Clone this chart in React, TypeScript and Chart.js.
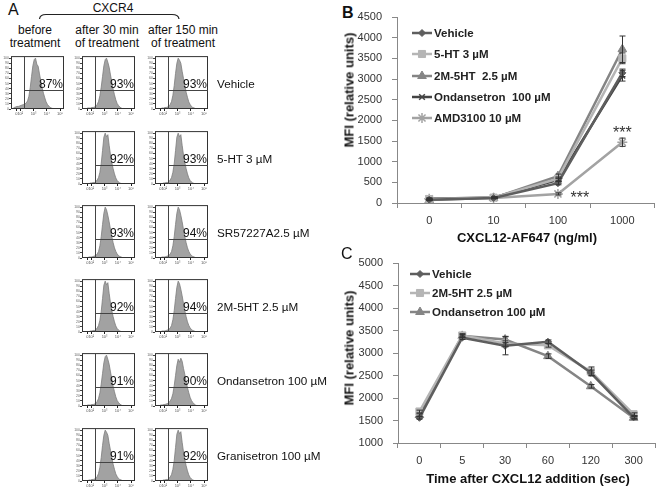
import React, { useEffect, useRef } from 'react';
import { Chart, registerables } from 'chart.js';
import { drawPoint } from 'chart.js/helpers';

Chart.register(...registerables);
const FONT = '"Liberation Sans", Arial, Helvetica, sans-serif';
Chart.defaults.font.family = FONT;

// ---------------- Panel B data ----------------
const doseLabels = ['0', '10', '100', '1000'];
const bVehicle = [80, 120, 480, 3150];
const bVehicleErr = [15, 15, 40, 90];
const b5HT = [95, 130, 590, 3500];
const b5HTErr = [20, 15, 40, 130];
const b2M5HT = [70, 125, 650, 3720];
const b2M5HTErr = [15, 15, 50, 320];
const bOndansetron = [100, 135, 560, 3080];
const bOndansetronErr = [20, 15, 40, 130];
const bAMD3100 = [100, 120, 220, 1470];
const bAMD3100Err = [20, 15, 25, 100];
const bSeriesNames = ['Vehicle', '5-HT 3 µM', '2M-5HT  2.5 µM', 'Ondansetron  100 µM', 'AMD3100 10 µM'];
const bYTicks = [0, 500, 1000, 1500, 2000, 2500, 3000, 3500, 4000, 4500];
const bSigIndex = [3, 2];
const bSigValue = [1780, 210];

// ---------------- Panel C data ----------------
const timeLabels = ['0', '5', '30', '60', '120', '300'];
const cVehicle = [1560, 3340, 3160, 3250, 2560, 1570];
const cVehicleErr = [30, 40, 200, 40, 60, 30];
const c2M5HT = [1700, 3390, 3210, 3170, 2590, 1640];
const c2M5HTErr = [30, 40, 60, 40, 100, 30];
const cOndansetron = [1620, 3380, 3300, 2930, 2260, 1560];
const cOndansetronErr = [30, 30, 70, 50, 40, 30];
const cSeriesNames = ['Vehicle', '2M-5HT 2.5 µM', 'Ondansetron 100 µM'];
const cYTicks = [1000, 1500, 2000, 2500, 3000, 3500, 4000, 4500, 5000];

// ---------------- Panel A data ----------------
const treatments = ['Vehicle', '5-HT 3 µM', 'SR57227A2.5 µM', '2M-5HT 2.5 µM', 'Ondansetron 100 µM', 'Granisetron 100 µM'];
const pctBefore = ['87%'];
const pct30 = ['93%', '92%', '93%', '92%', '91%', '91%'];
const pct150 = ['93%', '93%', '94%', '94%', '90%', '92%'];
const histBefore = [0, 1, 3, 4, 5, 5, 6, 7, 8, 9, 10, 12, 16, 25, 42, 64, 85, 97, 100, 88, 84, 69, 55, 42, 31, 22, 14, 9, 6, 3, 2, 1, 1, 0, 0, 0, 0, 0, 0, 0];
const histV30 = [0, 0, 1, 1, 2, 2, 2, 3, 3, 4, 6, 9, 15, 26, 43, 64, 85, 97, 100, 92, 82, 67, 53, 39, 28, 18, 11, 7, 4, 2, 1, 1, 0, 0, 0, 0, 0, 0, 0, 0];
const histV150 = [0, 0, 1, 1, 1, 2, 2, 3, 3, 4, 6, 9, 15, 27, 46, 70, 90, 100, 96, 90, 74, 60, 46, 33, 23, 14, 9, 5, 3, 2, 1, 0, 0, 0, 0, 0, 0, 0, 0, 0];
const histNarrow = [0, 0, 0, 1, 1, 1, 2, 2, 3, 3, 5, 8, 13, 23, 40, 66, 92, 100, 93, 97, 76, 57, 42, 30, 20, 12, 7, 4, 2, 1, 1, 0, 0, 0, 0, 0, 0, 0, 0, 0];
const histSR = [0, 0, 1, 1, 1, 2, 2, 2, 3, 4, 5, 8, 13, 24, 42, 66, 88, 100, 95, 84, 71, 56, 42, 30, 20, 13, 8, 5, 3, 2, 1, 0, 0, 0, 0, 0, 0, 0, 0, 0];
const histWide = [0, 0, 1, 1, 2, 2, 3, 3, 4, 5, 7, 10, 15, 24, 40, 60, 80, 92, 86, 94, 88, 74, 62, 48, 36, 26, 17, 11, 7, 4, 2, 1, 1, 0, 0, 0, 0, 0, 0, 0];
const hist30ByRow = [histV30, histNarrow, histSR, histNarrow, histV30, histV150];
const hist150ByRow = [histV150, histNarrow, histSR, histSR, histWide, histNarrow];
const histXTickBins = [4, 7, 17, 27, 37];
const histXTickLabels = ['0', '10²', '10³', '10⁴', '10⁵'];
const histYTicks = [0, 10, 20, 30, 40, 50, 60, 70, 80, 90, 100];
const histGateBin = 10;
const histGateLevel = 37;

// ---------------- plugins ----------------
const errorBarPlugin = {
  id: 'errorBars',
  afterDatasetsDraw(chart: any) {
    const ctx = chart.ctx;
    const ys = chart.scales.y;
    chart.data.datasets.forEach((ds: any, i: number) => {
      const errs = ds.errorBars;
      if (!errs) return;
      const meta = chart.getDatasetMeta(i);
      ctx.save();
      ctx.strokeStyle = '#333';
      ctx.lineWidth = 1;
      meta.data.forEach((pt: any, j: number) => {
        const v = ds.data[j];
        const e = errs[j];
        if (!e) return;
        const y1 = ys.getPixelForValue(v + e);
        const y2 = ys.getPixelForValue(v - e);
        const x = Math.round(pt.x) + 0.5;
        ctx.beginPath();
        ctx.moveTo(x, y1);
        ctx.lineTo(x, y2);
        ctx.moveTo(x - 3, y1);
        ctx.lineTo(x + 3, y1);
        ctx.moveTo(x - 3, y2);
        ctx.lineTo(x + 3, y2);
        ctx.stroke();
      });
      ctx.restore();
    });
  },
};

function makeLegendPlugin(x: number, ys: number[], fontSize: number) {
  return {
    id: 'inlineLegend',
    afterDraw(chart: any) {
      const ctx = chart.ctx;
      chart.data.datasets.forEach((ds: any, i: number) => {
        const y = ys[i];
        ctx.save();
        ctx.strokeStyle = ds.borderColor;
        ctx.lineWidth = 2.5;
        ctx.beginPath();
        ctx.moveTo(x, y);
        ctx.lineTo(x + 20, y);
        ctx.stroke();
        ctx.fillStyle = ds.backgroundColor;
        ctx.strokeStyle = ds.borderColor;
        ctx.lineWidth = ds.pointBorderWidth || 1;
        drawPoint(ctx, { pointStyle: ds.pointStyle, radius: ds.pointRadius, rotation: 0, borderWidth: ds.pointBorderWidth || 1 } as any, x + 10, y);
        ctx.fillStyle = '#222';
        ctx.font = `bold ${fontSize}px ${FONT}`;
        ctx.textBaseline = 'middle';
        ctx.textAlign = 'left';
        ctx.fillText(ds.label, x + 22, y + 0.5);
        ctx.restore();
      });
    },
  };
}

const sigPlugin = {
  id: 'sigMarks',
  afterDatasetsDraw(chart: any) {
    const ctx = chart.ctx;
    const xs = chart.scales.x;
    const ys = chart.scales.y;
    ctx.save();
    ctx.fillStyle = '#333';
    ctx.font = `16px ${FONT}`;
    ctx.textAlign = 'center';
    ctx.textBaseline = 'middle';
    ctx.fillText('***', xs.getPixelForValue(bSigIndex[0]), ys.getPixelForValue(bSigValue[0]) + 4);
    ctx.fillText('***', xs.getPixelForValue(bSigIndex[1]) + 22, ys.getPixelForValue(bSigValue[1]) + 4);
    ctx.restore();
  },
};

const histFramePlugin = {
  id: 'histFrame',
  afterDatasetsDraw(chart: any) {
    const { left, top, right, bottom } = chart.chartArea;
    const ctx = chart.ctx;
    const gx = Math.round(chart.scales.x.getPixelForValue(histGateBin)) + 0.5;
    const gy = Math.round(chart.scales.y.getPixelForValue(histGateLevel)) + 0.5;
    ctx.save();
    ctx.strokeStyle = '#333';
    ctx.lineWidth = 1;
    ctx.strokeRect(left + 0.5, top + 0.5, right - left - 1, bottom - top - 1);
    ctx.strokeStyle = '#444';
    ctx.beginPath();
    ctx.moveTo(gx, top);
    ctx.lineTo(gx, bottom);
    ctx.moveTo(gx, gy);
    ctx.lineTo(right, gy);
    ctx.stroke();
    ctx.restore();
  },
};

// ---------------- generic canvas chart ----------------
function ChartCanvas({ left, top, width, height, make }: { left: number; top: number; width: number; height: number; make: () => any }) {
  const ref = useRef<HTMLCanvasElement>(null);
  useEffect(() => {
    const chart = new Chart(ref.current as HTMLCanvasElement, make());
    return () => chart.destroy();
  }, []);
  return (
    <canvas
      ref={ref}
      width={width}
      height={height}
      style={{ position: 'absolute', left, top, width, height, display: 'block' }}
    />
  );
}

function series(label: string, data: number[], errs: number[], color: string, style: string, radius: number, pbw = 1) {
  return {
    label,
    data,
    errorBars: errs,
    borderColor: color,
    backgroundColor: color,
    pointStyle: style,
    pointRadius: radius,
    pointBorderWidth: pbw,
    borderWidth: 2.5,
    tension: 0,
  };
}

function lineOptions(yTicks: number[], yWidth: number, xHeight: number, padTop: number, padRight: number) {
  return {
    responsive: false,
    animation: false,
    events: [],
    layout: { padding: { top: padTop, right: padRight, left: 0, bottom: 0 } },
    plugins: { legend: { display: false }, tooltip: { enabled: false } },
    scales: {
      x: {
        type: 'category',
        offset: true,
        grid: { offset: true, drawOnChartArea: false, drawTicks: true, tickLength: 5, color: '#888' },
        border: { color: '#888' },
        ticks: { font: { size: 11 }, color: '#333', padding: 6, maxRotation: 0 },
        afterFit: (s: any) => { s.height = xHeight; },
      },
      y: {
        min: yTicks[0],
        max: yTicks[yTicks.length - 1],
        afterBuildTicks: (s: any) => { s.ticks = yTicks.map((v) => ({ value: v })); },
        grid: { drawOnChartArea: false, drawTicks: true, tickLength: 5, color: '#888' },
        border: { color: '#888' },
        ticks: { font: { size: 11 }, color: '#333', padding: 10, callback: (v: any) => String(v) },
        afterFit: (s: any) => { s.width = yWidth; },
      },
    },
  };
}

function makeB() {
  return {
    type: 'line',
    data: {
      labels: doseLabels,
      datasets: [
        series(bSeriesNames[0], bVehicle, bVehicleErr, '#5e5e5e', 'rectRot', 3.5),
        series(bSeriesNames[1], b5HT, b5HTErr, '#b5b5b5', 'rect', 5),
        series(bSeriesNames[2], b2M5HT, b2M5HTErr, '#858585', 'triangle', 5),
        series(bSeriesNames[3], bOndansetron, bOndansetronErr, '#444444', 'crossRot', 4, 1.5),
        series(bSeriesNames[4], bAMD3100, bAMD3100Err, '#a3a3a3', 'star', 5, 1.5),
      ],
    },
    options: lineOptions(bYTicks, 67, 47, 17, 2),
    plugins: [errorBarPlugin, sigPlugin, makeLegendPlugin(82, [33, 54, 76, 97, 118], 11.5)],
  };
}

function makeC() {
  return {
    type: 'line',
    data: {
      labels: timeLabels,
      datasets: [
        series(cSeriesNames[0], cVehicle, cVehicleErr, '#5e5e5e', 'rectRot', 3.5),
        series(cSeriesNames[1], c2M5HT, c2M5HTErr, '#b5b5b5', 'rect', 5),
        series(cSeriesNames[2], cOndansetron, cOndansetronErr, '#858585', 'triangle', 5),
      ],
    },
    options: lineOptions(cYTicks, 68, 51, 18, 1),
    plugins: [errorBarPlugin, makeLegendPlugin(80, [29, 48, 67], 11.5)],
  };
}

function makeHist(hist: number[]) {
  const pts = [{ x: 0, y: 0 }, ...hist.map((v, i) => ({ x: i + 0.5, y: v })), { x: hist.length, y: 0 }];
  return {
    type: 'line',
    data: {
      datasets: [
        {
          data: pts,
          fill: 'origin',
          backgroundColor: '#a2a2a2',
          borderColor: '#7c7c7c',
          borderWidth: 0.8,
          pointRadius: 0,
          tension: 0,
        },
      ],
    },
    options: {
      responsive: false,
      animation: false,
      events: [],
      layout: { padding: { top: 1, right: 1, left: 0, bottom: 0 } },
      plugins: { legend: { display: false }, tooltip: { enabled: false } },
      scales: {
        x: {
          type: 'linear',
          min: 0,
          max: hist.length,
          afterBuildTicks: (s: any) => { s.ticks = histXTickBins.map((v) => ({ value: v })); },
          grid: { drawOnChartArea: false, drawTicks: true, tickLength: 2, color: '#222' },
          border: { display: false },
          ticks: { font: { size: 4 }, color: '#555', padding: 0, autoSkip: false, maxRotation: 0, callback: (_v: any, i: number) => histXTickLabels[i] },
          afterFit: (s: any) => { s.height = 9; },
        },
        y: {
          min: 0,
          max: 104,
          afterBuildTicks: (s: any) => { s.ticks = histYTicks.map((v) => ({ value: v })); },
          grid: { drawOnChartArea: false, drawTicks: true, tickLength: 2, color: '#444' },
          border: { display: false },
          ticks: { font: { size: 3.5 }, color: '#666', padding: 0, autoSkip: false },
          afterFit: (s: any) => { s.width = 9; },
        },
      },
    },
    plugins: [histFramePlugin],
  };
}

const BOX_W = 53;
const BOX_H = 55;

function HistCell({ left, top, hist, pct }: { left: number; top: number; hist: number[]; pct: string }) {
  return (
    <>
      <ChartCanvas left={left - 9} top={top - 1} width={BOX_W + 10} height={BOX_H + 9} make={() => makeHist(hist)} />
      <div
        style={{
          position: 'absolute',
          left: left,
          top: top + 22,
          width: BOX_W - 1,
          textAlign: 'right',
          fontSize: 12,
          lineHeight: '14px',
          color: '#111',
          whiteSpace: 'nowrap',
        }}
      >
        {pct}
      </div>
    </>
  );
}

const txt = (extra: React.CSSProperties): React.CSSProperties => ({
  position: 'absolute',
  whiteSpace: 'nowrap',
  color: '#111',
  fontFamily: FONT,
  ...extra,
});

export default function App() {
  const rowTops = [55, 130, 204, 278, 352, 427];
  const colLefts = [11, 82, 155];
  return (
    <div
      style={{
        position: 'fixed',
        left: 0,
        top: 0,
        width: 661,
        height: 494,
        background: '#fff',
        overflow: 'hidden',
        fontFamily: FONT,
      }}
    >
      {/* Panel A */}
      <div style={txt({ left: 8, top: 1, fontSize: 16, lineHeight: '18px' })}>A</div>
      <div style={txt({ left: 113, top: 1, fontSize: 12, lineHeight: '14px', transform: 'translateX(-50%)' })}>CXCR4</div>
      <svg style={{ position: 'absolute', left: 0, top: 0 }} width={220} height={30}>
        <path d="M39.5 19 Q40 14.5 46 14.5 L172 14.5 Q178.5 14.5 179 19" fill="none" stroke="#222" strokeWidth={1.2} />
      </svg>
      {[
        { cx: 35, t: ['before', 'treatment'] },
        { cx: 107, t: ['after 30 min', 'of treatment'] },
        { cx: 183, t: ['after 150 min', 'of treatment'] },
      ].map((h, i) => (
        <div key={i} style={txt({ left: h.cx - 45, width: 90, top: 24, fontSize: 12, lineHeight: '13px', textAlign: 'center' })}>
          {h.t[0]}
          <br />
          {h.t[1]}
        </div>
      ))}
      <HistCell left={colLefts[0]} top={rowTops[0]} hist={histBefore} pct={pctBefore[0]} />
      {treatments.map((name, r) => (
        <React.Fragment key={name}>
          <HistCell left={colLefts[1]} top={rowTops[r]} hist={hist30ByRow[r]} pct={pct30[r]} />
          <HistCell left={colLefts[2]} top={rowTops[r]} hist={hist150ByRow[r]} pct={pct150[r]} />
          <div style={txt({ left: 217, top: rowTops[r] + 22, fontSize: 11.7, lineHeight: '14px' })}>{name}</div>
        </React.Fragment>
      ))}

      {/* Panel B */}
      <div style={txt({ left: 342, top: 4, fontSize: 16, lineHeight: '18px', fontWeight: 'bold' })}>B</div>
      <ChartCanvas left={330} top={0} width={331} height={250} make={makeB} />
      <div style={txt({ left: 349, top: 90, fontSize: 13, fontWeight: 'bold', transform: 'translate(-50%, -50%) rotate(-90deg)' })}>
        MFI (relative units)
      </div>
      <div style={txt({ left: 527, top: 237, fontSize: 13, fontWeight: 'bold', transform: 'translate(-50%, -50%)' })}>
        CXCL12-AF647 (ng/ml)
      </div>

      {/* Panel C */}
      <div style={txt({ left: 341, top: 245, fontSize: 16, lineHeight: '18px' })}>C</div>
      <ChartCanvas left={330} top={245} width={331} height={249} make={makeC} />
      <div style={txt({ left: 349, top: 348, fontSize: 13, fontWeight: 'bold', transform: 'translate(-50%, -50%) rotate(-90deg)' })}>
        MFI (relative units)
      </div>
      <div style={txt({ left: 528, top: 478, fontSize: 13, fontWeight: 'bold', transform: 'translate(-50%, -50%)' })}>
        Time after CXCL12 addition (sec)
      </div>
    </div>
  );
}
